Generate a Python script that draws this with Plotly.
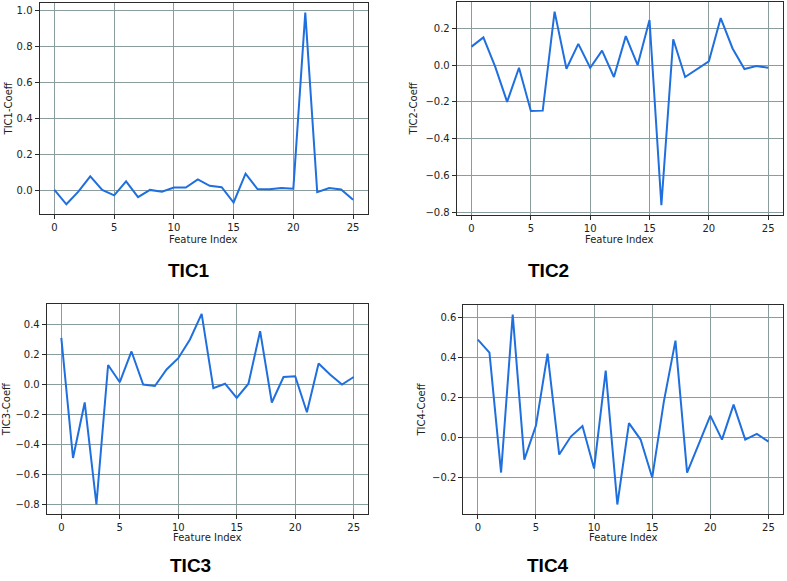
import plotly.graph_objects as go

feature_index = list(range(26))

tic1 = [0.005, -0.075, -0.005, 0.08, 0.005, -0.025, 0.052, -0.035, 0.005, -0.005,
        0.018, 0.018, 0.063, 0.028, 0.02, -0.065, 0.095, 0.01, 0.008, 0.015,
        0.012, 0.99, -0.008, 0.015, 0.007, -0.05]
tic2 = [0.1, 0.15, -0.01, -0.2, -0.015, -0.25, -0.248, 0.29, -0.02, 0.115,
        -0.015, 0.078, -0.065, 0.157, 0.0, 0.245, -0.762, 0.14, -0.065, -0.02,
        0.02, 0.255, 0.09, -0.022, -0.005, -0.015]
tic3 = [0.31, -0.49, -0.12, -0.8, 0.13, 0.015, 0.22, 0.0, -0.01, 0.1,
        0.175, 0.3, 0.47, -0.025, 0.005, -0.09, 0.005, 0.355, -0.12, 0.05,
        0.055, -0.185, 0.14, 0.065, 0.0, 0.05]
tic4 = [0.49, 0.425, -0.175, 0.615, -0.11, 0.06, 0.42, -0.085, 0.005, 0.058,
        -0.155, 0.335, -0.335, 0.072, -0.01, -0.2, 0.18, 0.485, -0.175, -0.03,
        0.11, -0.01, 0.165, -0.01, 0.018, -0.02]

series = [tic1, tic2, tic3, tic4]
names = ["TIC1", "TIC2", "TIC3", "TIC4"]
y_ticks = [
    [0.0, 0.2, 0.4, 0.6, 0.8, 1.0],
    [-0.8, -0.6, -0.4, -0.2, 0.0, 0.2],
    [-0.8, -0.6, -0.4, -0.2, 0.0, 0.2, 0.4],
    [-0.2, 0.0, 0.2, 0.4, 0.6],
]
x_ticks = [0, 5, 10, 15, 20, 25]

W, H = 787, 581
# plot boxes in pixels: (left, right, top, bottom)
boxes = [
    (39.5, 368, 3, 215),
    (456.7, 783, 2, 216),
    (46.7, 368.3, 306, 516.7),
    (463.3, 783, 306.7, 516.7),
]
ylabel_x = [8, 413, 6, 422]
xlabel_y = [241, 241, 540, 540]
title_pos = [(189, 272), (548, 272), (190, 568), (548, 568)]

LINE = "#1f6fde"
GRID = "#8a9c9c"
FRAME = "#2b2b2b"
TXT = "#222222"
FONT = "DejaVu Sans"

fig = go.Figure()
annotations = []
for i, (vals, nm) in enumerate(zip(series, names)):
    k = "" if i == 0 else str(i + 1)
    l, r, t, b = boxes[i]
    fig.add_trace(go.Scatter(x=feature_index, y=vals, mode="lines",
                             line=dict(color=LINE, width=2),
                             xaxis="x" + k, yaxis="y" + k, showlegend=False))
    lo, hi = min(vals), max(vals)
    pad = 0.05 * (hi - lo)
    common = dict(showline=True, mirror=True, linecolor=FRAME, linewidth=1,
                  showgrid=True, gridcolor=GRID, gridwidth=1, zeroline=False,
                  ticks="outside", ticklen=4, tickcolor=FRAME,
                  tickfont=dict(family=FONT, size=10, color=TXT))
    fig.update_layout(**{
        "xaxis" + k: dict(domain=[l / W, r / W], anchor="y" + k,
                          range=[-1.25, 26.25], tickvals=x_ticks, **common),
        "yaxis" + k: dict(domain=[1 - b / H, 1 - t / H], anchor="x" + k,
                          range=[lo - pad, hi + pad], tickvals=y_ticks[i],
                          tickformat=".1f", **common),
    })
    annotations.append(dict(x=ylabel_x[i] / W, y=1 - (t + b) / 2 / H, xref="paper", yref="paper",
                            text=nm + "-Coeff", textangle=-90, showarrow=False,
                            font=dict(family=FONT, size=10, color=TXT),
                            xanchor="center", yanchor="middle"))
    annotations.append(dict(x=(l + r) / 2 / W, y=1 - xlabel_y[i] / H, xref="paper", yref="paper",
                            text="Feature Index", showarrow=False,
                            font=dict(family=FONT, size=10, color=TXT),
                            xanchor="center", yanchor="middle"))
    annotations.append(dict(x=title_pos[i][0] / W, y=1 - title_pos[i][1] / H, xref="paper", yref="paper",
                            text="<b>" + nm + "</b>", showarrow=False,
                            font=dict(family="Liberation Sans", size=19, color="#000000"),
                            xanchor="center", yanchor="middle"))

fig.update_layout(width=W, height=H, margin=dict(l=0, r=0, t=0, b=0),
                  paper_bgcolor="white", plot_bgcolor="white",
                  annotations=annotations)

fig.write_html("out.html", config={"displayModeBar": False},
               post_script="document.body.style.margin='0';document.body.style.padding='0';document.body.style.overflow='hidden';")
